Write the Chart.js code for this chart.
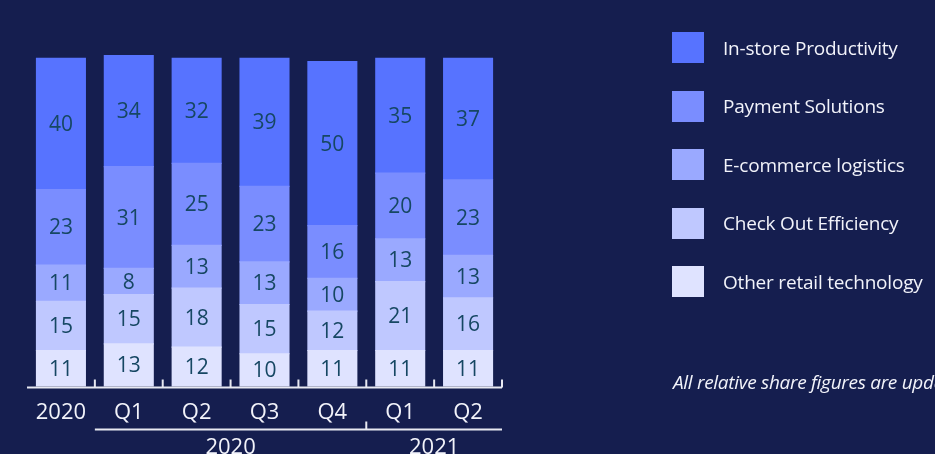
<!DOCTYPE html>
<html>
<head>
<meta charset="utf-8">
<script src="https://cdn.jsdelivr.net/npm/chart.js@4"></script>
<style>
  html, body { margin: 0; padding: 0; background: #151e4f; overflow: hidden; }
  #wrap { position: relative; width: 935px; height: 454px; }
  #chart { position: absolute; left: 0; top: 0; }
  #legend { position: absolute; left: 672px; top: 32px; font-family: "Open Sans", sans-serif; color: #f2f3fa; }
  .item { display: flex; align-items: center; height: 31px; margin-bottom: 27.5px; white-space: nowrap; font-size: 19px; letter-spacing: -0.2px; }
  .box { width: 32px; height: 31px; margin-right: 19px; }
  #note { position: absolute; left: 673px; top: 369px; font-family: "Open Sans", sans-serif; font-style: italic;
          font-size: 19px; color: #f2f3fa; white-space: nowrap; letter-spacing: -0.3px; }
</style>
</head>
<body>
<div id="wrap">
  <canvas id="chart" width="935" height="454"></canvas>
  <div id="legend"></div>
  <div id="note">All relative share figures are updated quarterly</div>
</div>
<script>
/* -------- Daten -------- */
const categories = ["2020", "Q1", "Q2", "Q3", "Q4", "Q1", "Q2"];
const groups = [
  { label: "2020", from: 1, to: 4 },
  { label: "2021", from: 5, to: 6 }
];

// Reihen von unten nach oben (Stapelreihenfolge)
const otherRetail   = [11, 13, 12, 10, 11, 11, 11];
const checkOut      = [15, 15, 18, 15, 12, 21, 16];
const eCommerce     = [11, 8, 13, 13, 10, 13, 13];
const payment       = [23, 31, 25, 23, 16, 20, 23];
const inStore       = [40, 34, 32, 39, 50, 35, 37];

const seriesNames = ["Other retail technology", "Check Out Efficiency", "E-commerce logistics", "Payment Solutions", "In-store Productivity"];
const seriesData = [otherRetail, checkOut, eCommerce, payment, inStore];
const seriesColors = ["#dfe3ff", "#bfc8ff", "#9aa9ff", "#7a8dff", "#5773ff"];

/* -------- Plugins -------- */
const segmentLabels = {
  id: "segmentLabels",
  afterDatasetsDraw(chart) {
    const ctx = chart.ctx;
    ctx.save();
    ctx.fillStyle = "#164763";
    ctx.font = "21px 'Open Sans', sans-serif";
    ctx.textAlign = "center";
    ctx.textBaseline = "middle";
    chart.data.datasets.forEach((ds, i) => {
      chart.getDatasetMeta(i).data.forEach((bar, j) => {
        const mid = (bar.y + bar.base) / 2;
        ctx.fillText(ds.data[j], bar.x, mid + 1);
      });
    });
    ctx.restore();
  }
};

const axisDecor = {
  id: "axisDecor",
  afterDraw(chart) {
    const ctx = chart.ctx;
    const x = chart.scales.x;
    const area = chart.chartArea;
    const step = x.getPixelForValue(1) - x.getPixelForValue(0);
    const y0 = area.bottom + 1;
    ctx.save();
    ctx.strokeStyle = "#e8e9f2";
    ctx.lineWidth = 2;

    // Grundlinie mit Strichen zwischen den Kategorien
    ctx.beginPath();
    ctx.moveTo(area.left, y0);
    ctx.lineTo(area.right, y0);
    for (let i = 0; i < categories.length; i++) {
      const bx = x.getPixelForValue(i) + step / 2;
      ctx.moveTo(bx, y0);
      ctx.lineTo(bx, y0 - 8);
    }
    ctx.stroke();

    // Gruppenzeile (Jahre)
    const gy = y0 + 42;
    const gStart = x.getPixelForValue(groups[0].from) - step / 2;
    const gEnd = x.getPixelForValue(groups[groups.length - 1].to) + step / 2;
    ctx.beginPath();
    ctx.moveTo(gStart, gy);
    ctx.lineTo(gEnd, gy);
    groups.slice(1).forEach(g => {
      const bx = x.getPixelForValue(g.from) - step / 2;
      ctx.moveTo(bx, gy);
      ctx.lineTo(bx, gy - 8);
    });
    ctx.stroke();

    ctx.fillStyle = "#f2f3fa";
    ctx.font = "22px 'Open Sans', sans-serif";
    ctx.textAlign = "center";
    ctx.textBaseline = "middle";
    groups.forEach(g => {
      const cx = (x.getPixelForValue(g.from) + x.getPixelForValue(g.to)) / 2;
      ctx.fillText(g.label, cx, gy + 18);
    });
    ctx.restore();
  }
};

/* -------- Legende -------- */
const legend = document.getElementById("legend");
for (let i = seriesNames.length - 1; i >= 0; i--) {
  legend.innerHTML += `<div class="item"><div class="box" style="background:${seriesColors[i]}"></div>${seriesNames[i]}</div>`;
}

/* -------- Chart -------- */
new Chart(document.getElementById("chart").getContext("2d"), {
  type: "bar",
  data: {
    labels: categories,
    datasets: seriesNames.map((name, i) => ({
      label: name,
      data: seriesData[i],
      backgroundColor: seriesColors[i],
      borderWidth: 0,
      inflateAmount: 0.6,
      barPercentage: 0.72,
      categoryPercentage: 1
    }))
  },
  options: {
    responsive: false,
    animation: false,
    layout: { padding: { left: 27, right: 433, top: 55, bottom: 15 } },
    scales: {
      x: {
        stacked: true,
        grid: { display: false, drawTicks: false },
        border: { display: false },
        ticks: { color: "#f2f3fa", font: { size: 22, family: "'Open Sans', sans-serif" }, padding: 13, maxRotation: 0 }
      },
      y: { stacked: true, display: false, min: 0, max: 101 }
    },
    plugins: { legend: { display: false }, tooltip: { enabled: false } }
  },
  plugins: [segmentLabels, axisDecor]
});
</script>
</body>
</html>
